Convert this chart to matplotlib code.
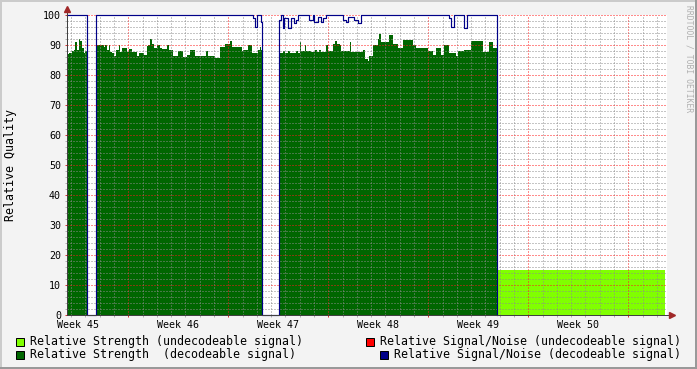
import matplotlib
matplotlib.use("Agg")
import matplotlib.pyplot as plt
from matplotlib.patches import Rectangle
from matplotlib.lines import Line2D
import numpy as np

# ---------------- data (time in days, 0 = start of week 46) ----------------
view_start, view_end = -4.29, 37.71
week_labels = ["Week 45", "Week 46", "Week 47", "Week 48", "Week 49", "Week 50"]
week_label_pos = [-3.5, 3.5, 10.5, 17.5, 24.5, 31.5]
week_bounds = [0, 7, 14, 21, 28, 35]
y_ticks = [0, 10, 20, 30, 40, 50, 60, 70, 80, 90, 100]

# Relative Strength (decodeable signal): step series (start time, value)
strength_dec_t = [
    -4.29, -4.13, -3.94, -3.82, -3.71, -3.59, -3.47, -3.36, -3.24, -3.12, -3.01, -2.89,
    -2.23, -1.70, -1.60, -1.49, -1.35, -1.25, -1.14, -1.00, -0.86, -0.65, -0.58, -0.44,
    -0.09, 0.05, 0.26, 0.61, 0.73, 0.96, 1.08, 1.31, 1.40, 1.52, 1.66, 1.80, 2.01, 2.22,
    2.36, 2.71, 2.85, 3.13, 3.48, 3.83, 4.11, 4.32, 4.67, 5.44, 5.58, 6.07, 6.42, 6.77,
    7.15, 7.26, 7.96, 8.03, 8.38, 8.66, 9.08, 9.22, 9.29, 9.38,
    10.58, 10.83, 10.97, 11.18, 11.32, 11.74, 11.88, 12.02, 12.09, 12.37, 12.47, 12.79,
    13.10, 13.21, 13.38, 13.49, 13.84, 13.98, 14.33, 14.50, 14.61, 14.82, 14.89, 15.52,
    15.59, 16.43, 16.57, 16.78, 16.88, 17.13, 17.48, 17.58, 17.69, 18.25, 18.53, 18.88,
    19.23, 19.93, 20.14, 20.98, 21.33, 21.54, 21.89, 22.10, 22.45, 22.94, 23.08, 23.50,
    23.99, 24.83, 25.25, 25.53, 25.84,
]
strength_dec_v = [
    87.0, 87.4, 88.0, 88.3, 91.0, 88.3, 92.0, 91.3, 89.0, 87.4, 88.0, 0.0,
    90.0, 89.4, 90.0, 88.3, 90.0, 87.8, 87.2, 86.5, 88.3, 90.0, 87.8, 89.0,
    87.8, 88.6, 87.8, 86.5, 87.2, 87.4, 86.7, 89.7, 90.0, 92.0, 90.3, 88.9, 90.0, 88.9,
    88.6, 90.0, 88.4, 86.5, 88.0, 86.0, 86.8, 88.5, 86.4, 88.0, 86.3, 85.6, 89.2, 90.3,
    91.2, 89.5, 88.0, 88.5, 90.0, 87.5, 88.5, 89.5, 88.5, 0.0,
    87.5, 88.0, 87.5, 88.0, 87.5, 88.0, 87.5, 91.0, 88.0, 90.0, 88.0, 87.8,
    88.3, 87.8, 88.3, 87.8, 90.0, 88.0, 90.5, 91.3, 90.5, 90.0, 88.0, 91.0,
    87.8, 88.5, 85.5, 84.7, 86.5, 90.0, 92.0, 93.8, 91.0, 93.5, 90.5, 89.0,
    91.7, 90.0, 89.0, 88.0, 86.7, 89.0, 86.7, 90.0, 87.5, 86.5, 88.0, 88.3,
    91.5, 87.8, 91.0, 89.0, 0.0,
]

# Relative Signal/Noise (decodeable signal)
snr_dec_t = [
    -4.29, -2.89, -2.23, 8.71, 8.87, 9.04, 9.29, 9.38,
    10.57, 10.69, 10.83, 10.90, 11.18, 11.39, 11.60, 11.74, 11.88, 12.65, 12.93, 13.00,
    13.28, 13.49, 13.63, 13.84, 15.03, 15.24, 15.38, 15.80, 16.08, 16.29,
    22.45, 22.59, 22.80, 23.50, 23.71, 25.84,
]
snr_dec_v = [
    100, 0, 100, 99, 96, 100, 97.8, 0,
    98.3, 100, 95.6, 98.9, 95.6, 99, 97.2, 98.3, 100, 98.3, 100, 97.8,
    99.4, 97.8, 98.9, 100, 98.3, 97.8, 99.4, 98.3, 97.4, 100,
    99, 96, 100, 95.7, 100, 0,
]

# Relative Strength (undecodeable signal)
strength_undec_t = [25.84, 37.60]
strength_undec_v = [15, 15]

legend_labels = [
    "Relative Strength (undecodeable signal)",
    "Relative Signal/Noise (undecodeable signal)",
    "Relative Strength  (decodeable signal)",
    "Relative Signal/Noise (decodeable signal)",
]

# ---------------- styling ----------------
W, H = 697, 369
DPI = 100
PX = 72.0 / DPI  # points per pixel
MONO = "DejaVu Sans Mono"
C_DARK = "#006600"
C_LIGHT = "#80FF00"
C_BLUE = "#000088"
C_RED = "#FF0000"
C_ARROW = "#a02828"
C_AXIS = "#404040"

fig = plt.figure(figsize=(W / DPI, H / DPI), dpi=DPI)
fig.patch.set_facecolor("#f3f3f3")

L, R, T, B = 67, 667, 15, 315
ax = fig.add_axes([L / W, 1 - B / H, (R - L) / W, (B - T) / H])
ax.set_facecolor("white")

ax.fill_between(strength_undec_t, strength_undec_v, 0, step="post",
                color=C_LIGHT, linewidth=0, zorder=1)
ax.fill_between(strength_dec_t, strength_dec_v, 0, step="post",
                color=C_DARK, linewidth=0, zorder=1)
ax.step(snr_dec_t, snr_dec_v, where="post", color=C_BLUE,
        linewidth=0.85, zorder=4, clip_on=False)

ax.set_xlim(view_start, view_end)
ax.set_ylim(0, 100)

ax.set_xticks(week_bounds)
ax.set_xticks(np.arange(-4, 38), minor=True)
ax.set_xticklabels([])
ax.set_yticks(y_ticks)
ax.set_yticks(np.arange(0, 101, 2), minor=True)
ax.set_yticklabels([str(v) for v in y_ticks], fontfamily=MONO, fontsize=7.2)

ax.set_axisbelow(False)
ax.grid(which="minor", color=(0.55, 0.55, 0.55, 0.3), linestyle=(0, (1, 2)),
        linewidth=0.72, zorder=2)
ax.grid(which="major", color=(1.0, 0.1, 0.1, 0.35), linestyle=(0, (1, 2)),
        linewidth=0.72, zorder=2)

ax.tick_params(which="major", direction="out", length=2 * PX, width=0.72,
               color=(0.85, 0.2, 0.2), pad=4 * PX, labelcolor="#000000")
ax.tick_params(which="minor", direction="out", length=2 * PX, width=0.72,
               color="#b0b0b0")

for s in ["top", "right"]:
    ax.spines[s].set_visible(False)
for s in ["left", "bottom"]:
    ax.spines[s].set_color(C_AXIS)
    ax.spines[s].set_linewidth(0.72)
    ax.spines[s].set_zorder(5)

# axis extensions and arrows
ax.add_line(Line2D([0, 0], [1, 1.02], transform=ax.transAxes, color=C_AXIS,
                   linewidth=0.72, clip_on=False, zorder=5))
ax.add_line(Line2D([1, 1.008], [0, 0], transform=ax.transAxes, color=C_AXIS,
                   linewidth=0.72, clip_on=False, zorder=5))
ax.plot([0], [1.0185], marker="^", markersize=4.6, color=C_ARROW,
        transform=ax.transAxes, clip_on=False, zorder=6, linestyle="none")
ax.plot([1.0075], [0], marker=">", markersize=4.6, color=C_ARROW,
        transform=ax.transAxes, clip_on=False, zorder=6, linestyle="none")

# week labels
for pos, lab in zip(week_label_pos, week_labels):
    ax.text(pos, -10 / 300, lab, transform=ax.get_xaxis_transform(),
            ha="center", va="center", fontfamily=MONO, fontsize=7.2, color="#000000")

# y axis title
fig.text(11 / W, 1 - 165 / H, "Relative Quality", rotation=90, ha="center", va="center",
         fontfamily=MONO, fontsize=8.35, color="#000000")

# watermark
fig.text(689 / W, 1 - 5 / H, "RRDTOOL / TOBI OETIKER", rotation=270, ha="center",
         va="top", fontfamily=MONO, fontsize=5.8, color="#b0b0b0")

# legend
legend_items = [
    (15.5, 337.5, 30, 341.5, C_LIGHT, legend_labels[0]),
    (365.5, 337.5, 380, 341.5, C_RED, legend_labels[1]),
    (15.5, 350.5, 30, 354.5, C_DARK, legend_labels[2]),
    (380, 350.5, 394, 354.5, C_BLUE, legend_labels[3]),
]
for sx, sy, tx, ty, col, lab in legend_items:
    fig.add_artist(Rectangle((sx / W, 1 - (sy + 8) / H), 8 / W, 8 / H,
                             transform=fig.transFigure, facecolor=col,
                             edgecolor="#000000", linewidth=0.72))
    fig.text(tx / W, 1 - ty / H, lab, ha="left", va="center", fontfamily=MONO,
             fontsize=8.35, color="#000000")

# 3D frame
fig.add_artist(Rectangle((0, 1 - 2 / H), 1, 2 / H, transform=fig.transFigure,
                         facecolor="#cbcbcb", edgecolor="none"))
fig.add_artist(Rectangle((0, 0), 2 / W, 1, transform=fig.transFigure,
                         facecolor="#cbcbcb", edgecolor="none"))
fig.add_artist(Rectangle((0, 0), 1, 2 / H, transform=fig.transFigure,
                         facecolor="#999999", edgecolor="none"))
fig.add_artist(Rectangle((1 - 2 / W, 0), 2 / W, 1, transform=fig.transFigure,
                         facecolor="#999999", edgecolor="none"))

fig.savefig("out.png", dpi=DPI, facecolor=fig.get_facecolor())
